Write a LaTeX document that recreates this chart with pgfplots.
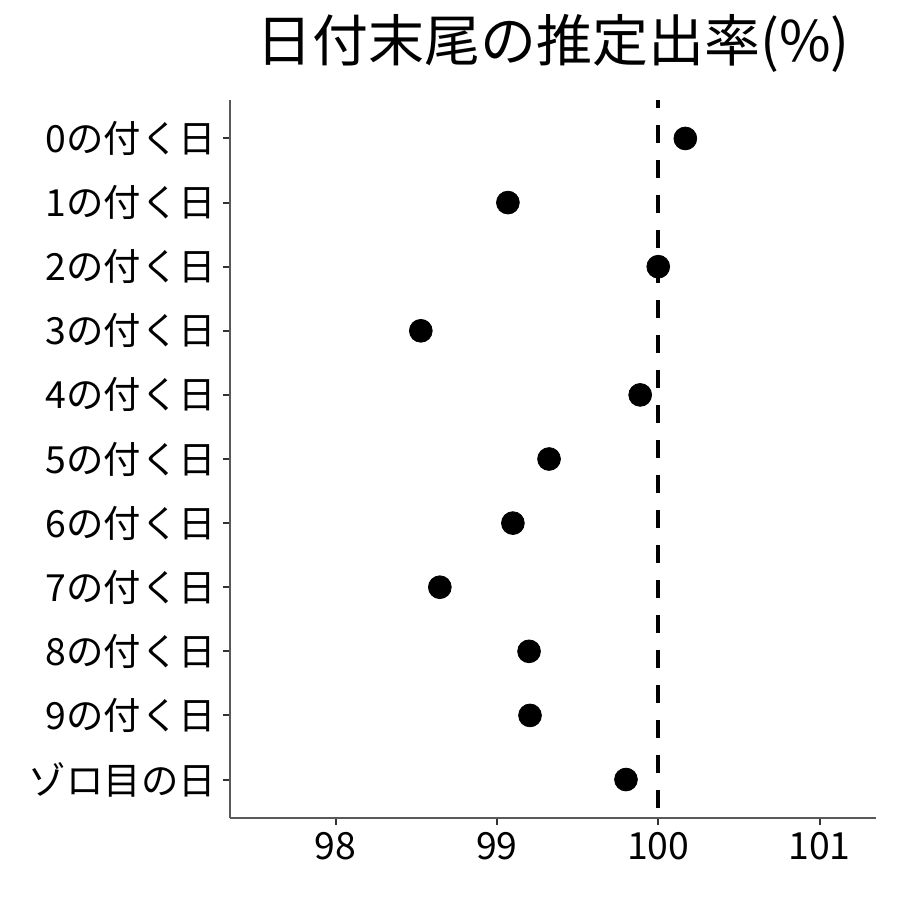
\documentclass[border=0pt]{standalone}
\usepackage{pgfplots}
\pgfplotsset{compat=1.18}
\usepackage{fontspec}
\setmainfont{Noto Sans CJK JP}
\begin{document}
\begin{tikzpicture}
\begin{axis}[
  at={(0pt,0pt)}, anchor=south west,
  scale only axis, width=323pt, height=359pt,
  xmin=97.345, xmax=101.35,
  ymin=-0.6, ymax=10.6, y dir=reverse,
  axis x line*=bottom, axis y line*=left,
  axis line style={gray!70!black, line width=0.6pt},
  xtick={98,99,100,101},
  ytick={0,...,10},
  yticklabels={0の付く日,1の付く日,2の付く日,3の付く日,4の付く日,5の付く日,6の付く日,7の付く日,8の付く日,9の付く日,ゾロ目の日},
  tick align=outside, tick pos=left,
  major tick length=3.5pt,
  tick style={gray!40!black, line width=1pt},
  ticklabel style={font=\fontsize{18.7}{20}\selectfont, text=black},
  /pgf/number format/assume math mode=true,
  title={日付末尾の推定出率(\%)},
  title style={font=\fontsize{28}{30}\selectfont, yshift=4pt},
  clip=false,
]
\addplot[black, line width=1.8pt, dash pattern=on 9pt off 8.5pt, dash phase=5pt] coordinates {(100,-0.6) (100,10.6)};
\addplot[only marks, mark=*, mark size=5.7pt, black] coordinates {
(100.168,0)
(99.068,1)
(100.0,2)
(98.528,3)
(99.888,4)
(99.323,5)
(99.099,6)
(98.646,7)
(99.199,8)
(99.205,9)
(99.80,10)
};
\end{axis}
\path (-115pt,-41pt) rectangle (335pt,409pt);
\end{tikzpicture}
\end{document}
